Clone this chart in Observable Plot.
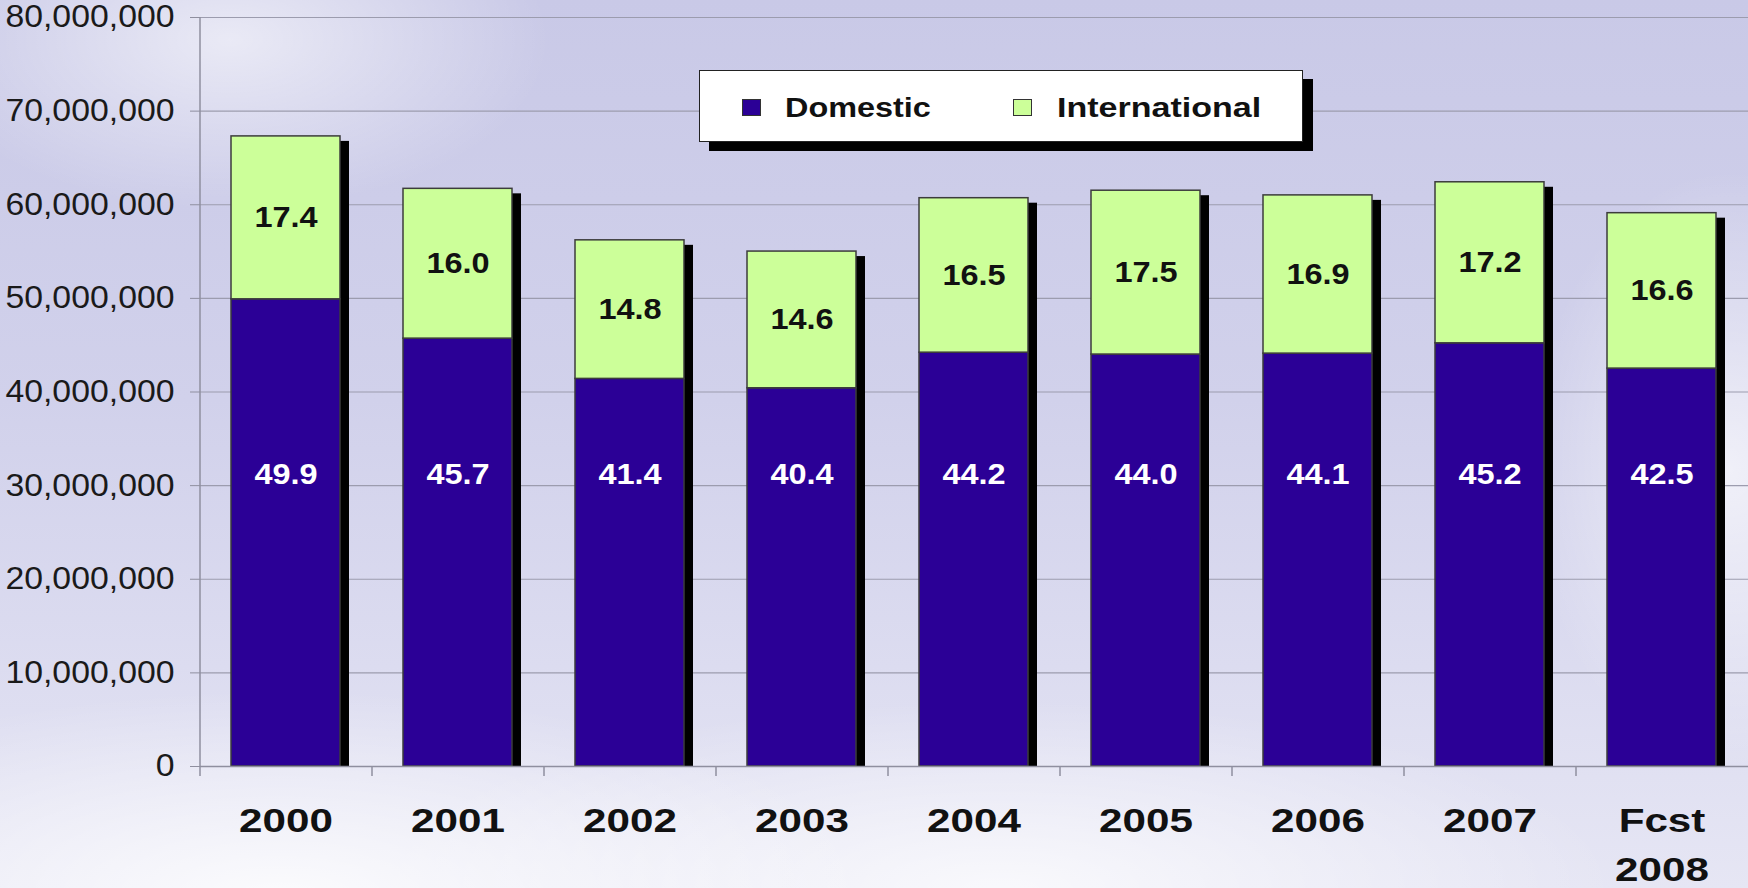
<!DOCTYPE html>
<html>
<head>
<meta charset="utf-8">
<script src="https://cdn.jsdelivr.net/npm/d3@7"></script>
<script src="https://cdn.jsdelivr.net/npm/@observablehq/plot@0.6"></script>
<style>
  html, body { margin: 0; padding: 0; }
  body {
    width: 1748px; height: 888px; overflow: hidden;
    font-family: "Liberation Sans", Arial, sans-serif;
    background:
      radial-gradient(ellipse 320px 170px at 230px 40px, rgba(255,255,255,0.6), rgba(255,255,255,0)),
      radial-gradient(ellipse 600px 210px at 280px 900px, rgba(255,255,255,0.85), rgba(255,255,255,0)),
      radial-gradient(ellipse 620px 190px at 1000px 890px, rgba(255,255,255,0.75), rgba(255,255,255,0)),
      radial-gradient(ellipse 200px 300px at 1730px 470px, rgba(255,255,255,0.65), rgba(255,255,255,0)),
      linear-gradient(#c9c9e7 0%, #d1d1eb 45%, #dcdcf0 75%, #e6e6f4 100%);
  }
  #wrap { position: relative; width: 1748px; height: 888px; }
  #wrap svg { position: absolute; left: 0; top: 0; background: transparent; }
  .legend {
    position: absolute; left: 699px; top: 70px; width: 602px; height: 70px;
    background: #fff; border: 1.5px solid #222; box-shadow: 10px 9px 0 #000;
  }
  .legend .sw { position: absolute; top: 28px; width: 19px; height: 17px; border: 1px solid #333; box-sizing: border-box; }
  .legend .lab { position: absolute; top: 20px; font-size: 27px; font-weight: bold; color: #111;
    transform-origin: left center; white-space: nowrap; line-height: 34px; }
</style>
</head>
<body>
<div id="wrap"></div>
<script>
// ---- data (values in millions of passengers) ----
const years = ["2000", "2001", "2002", "2003", "2004", "2005", "2006", "2007", "Fcst\n2008"];
const domestic = [49.9, 45.7, 41.4, 40.4, 44.2, 44.0, 44.1, 45.2, 42.5];
const international = [17.4, 16.0, 14.8, 14.6, 16.5, 17.5, 16.9, 17.2, 16.6];
const seriesNames = ["Domestic", "International"];
const seriesColors = ["#2b0096", "#ccff99"];
const yTicks = [0, 10, 20, 30, 40, 50, 60, 70, 80];

// table built from the arrays
const rows = [];
years.forEach((y, i) => {
  rows.push({year: y, type: "Domestic", value: domestic[i], base: 0});
  rows.push({year: y, type: "International", value: international[i], base: domestic[i]});
});

const W = 1748, H = 888, ML = 200, MR = 0, MT = 17, MB = 122;
const step = (W - ML - MR) / years.length;
const fmt = d3.format(",");

const plot = Plot.plot({
  width: W, height: H,
  marginLeft: ML, marginRight: MR, marginTop: MT, marginBottom: MB,
  style: {background: "transparent", fontFamily: "'Liberation Sans', Arial, sans-serif", overflow: "visible"},
  x: {domain: years, paddingInner: 0.366, paddingOuter: 0.183, axis: null},
  y: {domain: [0, 80], axis: null},
  color: {domain: seriesNames, range: seriesColors},
  marks: [
    Plot.gridY(yTicks, {stroke: "#9c9cae", strokeOpacity: 1, strokeWidth: 1.2}),
    Plot.axisY(yTicks, {
      tickSize: 10, tickPadding: 16, fontSize: 31, stroke: "#8f8f9f", fill: "#1a1a1a",
      tickFormat: d => fmt(d * 1e6), label: null
    }),
    // left axis line and category separators
    Plot.ruleX(years.slice(0, 1), {x: d => d, dx: -step / 2, y1: 0, y2: 80, stroke: "#8f8f9f", strokeWidth: 1.5}),
    Plot.ruleX(years, {x: d => d, dx: -step / 2, y1: 0, y2: 0, insetBottom: -10, stroke: "#8f8f9f", strokeWidth: 1.5}),
    // shadows
    Plot.barY(rows, Plot.groupX({y: "sum"}, {x: "year", y: "value", fill: "#000", dx: 9, dy: 5, insetBottom: 5})),
    // stacked bars
    Plot.barY(rows, {x: "year", y: "value", fill: "type", stroke: "#3c3c3c", strokeWidth: 1.5}),
    Plot.ruleY([0], {stroke: "#8f8f9f", strokeWidth: 1.5}),
    // value labels
    Plot.text(rows.filter(d => d.type === "Domestic"), {
      x: "year", y: () => 31.2, text: d => d.value.toFixed(1),
      fill: "#fff", fontSize: 29, fontWeight: "bold"
    }),
    Plot.text(rows.filter(d => d.type === "International"), {
      x: "year", y: d => d.base + d.value / 2, text: d => d.value.toFixed(1),
      fill: "#111", fontSize: 29, fontWeight: "bold"
    }),
    Plot.axisX(years, {
      tickSize: 0, tickPadding: 30, fontSize: 34, fontWeight: "bold", fill: "#111",
      lineHeight: 1.46, label: null
    })
  ]
});

const wrap = document.getElementById("wrap");
wrap.appendChild(plot);

// horizontal stretch of text, as in the reference picture
function stretch(selector, k) {
  plot.querySelectorAll(selector).forEach(t => {
    const spans = t.querySelectorAll("tspan");
    const els = spans.length ? Array.from(spans) : [t];
    els.forEach(el => {
      const L = el.getComputedTextLength();
      if (L > 0) {
        el.setAttribute("textLength", L * k);
        el.setAttribute("lengthAdjust", "spacingAndGlyphs");
      }
    });
  });
}
stretch('g[aria-label="y-axis tick label"] text', 1.09);
stretch('g[aria-label="text"] text', 1.12);
stretch('g[aria-label="x-axis tick label"] text', 1.24);

// legend
const legend = document.createElement("div");
legend.className = "legend";
const items = [
  {name: seriesNames[0], color: seriesColors[0], sw: 42, lab: 85, k: 1.2},
  {name: seriesNames[1], color: seriesColors[1], sw: 313, lab: 357, k: 1.26}
];
items.forEach(it => {
  const s = document.createElement("div");
  s.className = "sw"; s.style.left = it.sw + "px"; s.style.background = it.color;
  const l = document.createElement("div");
  l.className = "lab"; l.style.left = it.lab + "px"; l.textContent = it.name;
  l.style.transform = "scaleX(" + it.k + ")";
  legend.appendChild(s); legend.appendChild(l);
});
wrap.appendChild(legend);
</script>
</body>
</html>
